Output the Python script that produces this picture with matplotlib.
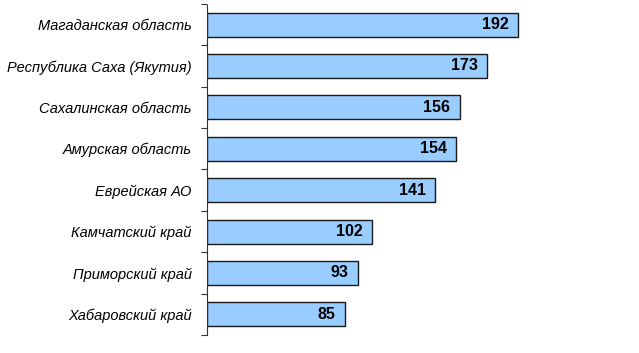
import matplotlib
matplotlib.use('Agg')
import matplotlib.pyplot as plt
import numpy as np

regions = ['Магаданская область', 'Республика Саха (Якутия)', 'Сахалинская область',
           'Амурская область', 'Еврейская АО', 'Камчатский край',
           'Приморский край', 'Хабаровский край']
values = [192, 173, 156, 154, 141, 102, 93, 85]

plt.rcParams['font.family'] = ['Liberation Sans', 'DejaVu Sans']

fig = plt.figure(figsize=(6.39, 3.53), dpi=100)
ax = fig.add_axes([0.324, 0.051, 0.659, 0.938])

y = np.arange(len(regions))
ax.barh(y, values, height=0.58, color='#99CCFF', edgecolor='#1a1a1a', linewidth=1.0)
for yi, v in zip(y, values):
    ax.text(v - 6, yi, str(v), ha='right', va='center', fontsize=11.5, fontweight='bold')

ax.set_xlim(0, 260)
ax.set_ylim(len(regions) - 0.5, -0.5)
ax.set_yticks(y)
ax.set_yticklabels(regions, fontsize=10.5, style='italic')
ax.set_yticks(np.arange(len(regions) + 1) - 0.5, minor=True)
ax.tick_params(axis='y', which='major', length=0, pad=11)
ax.tick_params(axis='y', which='minor', length=4, width=0.8, color='#333333')
ax.set_xticks([])
for s in ['top', 'right', 'bottom']:
    ax.spines[s].set_visible(False)
ax.spines['left'].set_color('#333333')
ax.spines['left'].set_linestyle((0, (1, 1)))

fig.savefig('out.png', dpi=100)
